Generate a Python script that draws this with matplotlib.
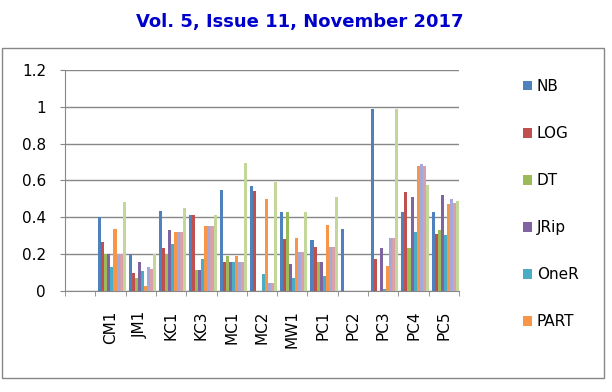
import numpy as np
import matplotlib.pyplot as plt
from matplotlib.patches import Rectangle

categories = ['CM1', 'JM1', 'KC1', 'KC3', 'MC1', 'MC2', 'MW1', 'PC1', 'PC2', 'PC3', 'PC4', 'PC5']
series_names = ['NB', 'LOG', 'DT', 'JRip', 'OneR', 'PART', 'S7', 'S8', 'S9']

nb    = [0.40, 0.20, 0.435, 0.41, 0.55, 0.57, 0.427, 0.278, 0.335, 0.99, 0.43, 0.427]
log   = [0.265, 0.10, 0.236, 0.41, 0.158, 0.545, 0.285, 0.24, 0.0, 0.176, 0.538, 0.307]
dt    = [0.20, 0.069, 0.20, 0.116, 0.191, 0.0, 0.427, 0.158, 0.0, 0.0, 0.231, 0.331]
jrip  = [0.20, 0.156, 0.329, 0.116, 0.158, 0.0, 0.144, 0.158, 0.0, 0.231, 0.509, 0.52]
oner  = [0.131, 0.107, 0.253, 0.173, 0.158, 0.091, 0.069, 0.08, 0.0, 0.009, 0.322, 0.302]
part  = [0.335, 0.025, 0.32, 0.353, 0.191, 0.502, 0.287, 0.36, 0.0, 0.136, 0.678, 0.475]
s7    = [0.20, 0.129, 0.32, 0.353, 0.158, 0.044, 0.213, 0.24, 0.0, 0.287, 0.691, 0.50]
s8    = [0.20, 0.12, 0.32, 0.353, 0.158, 0.044, 0.213, 0.24, 0.0, 0.287, 0.678, 0.478]
s9    = [0.482, 0.20, 0.449, 0.411, 0.695, 0.593, 0.427, 0.509, 0.0, 0.989, 0.576, 0.489]

values = [nb, log, dt, jrip, oner, part, s7, s8, s9]
colors = ['#4F81BD', '#C0504D', '#9BBB59', '#8064A2', '#4BACC6', '#F79646',
          '#A3A9DA', '#D9A0A8', '#C4D79B']

fig = plt.figure(figsize=(6.12, 3.92), dpi=100)
ax = fig.add_axes([65/612, 1-291/392, (459-65)/612, (291-70)/392])

x = np.arange(1, len(categories) + 1)
w = 0.1
handles = []
for i, (vals, c) in enumerate(zip(values, colors)):
    b = ax.bar(x - 0.4 + i*w, vals, width=w, color=c, align='edge', zorder=3)
    handles.append(b)

ax.set_xlim(-0.5, len(categories) + 0.5)
ax.set_ylim(0, 1.2)
ax.set_yticks(np.arange(0, 1.21, 0.2))
ax.set_yticklabels(['0', '0.2', '0.4', '0.6', '0.8', '1', '1.2'])
ax.yaxis.grid(True, color='#878787', lw=1, zorder=0)
ax.set_xticks(x)
ax.set_xticklabels(categories, rotation=90)
ax.tick_params(axis='x', length=0, labelsize=11, pad=14)
ax.set_xticks(np.arange(-0.5, len(categories) + 1), minor=True)
ax.tick_params(axis='x', which='minor', length=3.6, color='#878787', direction='out')
ax.tick_params(axis='y', length=3.6, color='#878787', labelsize=11, pad=10)
for s in ['top', 'right']:
    ax.spines[s].set_visible(False)
for s in ['left', 'bottom']:
    ax.spines[s].set_color('#878787')

fig.legend(handles[:6], series_names[:6], loc='upper left',
           bbox_to_anchor=(523/612, 1-79/392), frameon=False, fontsize=11,
           handlelength=0.6, handleheight=0.6, handletextpad=0.3,
           labelspacing=2.1, borderpad=0, borderaxespad=0)

fig.patches.append(Rectangle((2/612, 1-378/392), 602/612, 330/392,
                             transform=fig.transFigure, fill=False,
                             edgecolor='#878787', lw=1))

fig.text(300/612, 1-22/392, 'Vol. 5, Issue 11, November 2017', color='#0000CC',
         fontsize=13, fontweight='bold', ha='center', va='center')

fig.savefig('out.png', dpi=100)
